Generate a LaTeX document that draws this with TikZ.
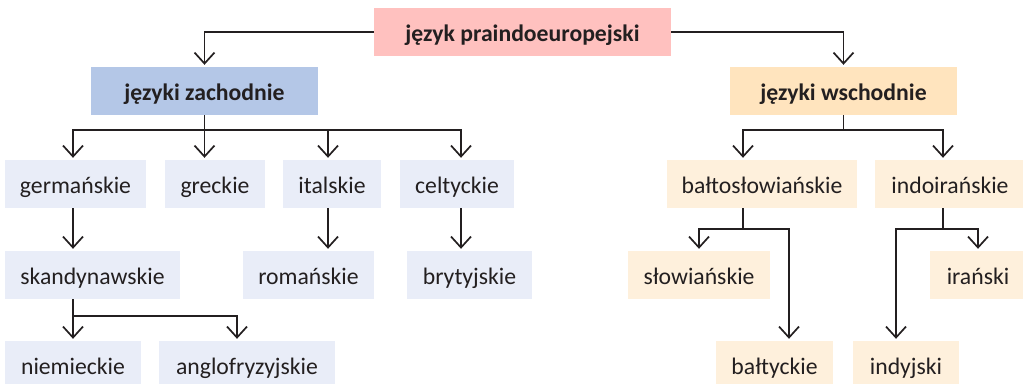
\documentclass[tikz,border=0pt]{standalone}
\usepackage{fontspec}
\setmainfont{Carlito}
\usepackage{tikz}
\usetikzlibrary{arrows.meta}

\definecolor{ink}{HTML}{231F20}
\definecolor{rootpink}{HTML}{FFC1BF}
\definecolor{westblue}{HTML}{B4C7E7}
\definecolor{eastpeach}{HTML}{FFE4BE}
\definecolor{westpale}{HTML}{E9EDF8}
\definecolor{eastpale}{HTML}{FEF0DC}

\begin{document}
\begin{tikzpicture}[
            x=1pt, y=-1pt,
            every node/.style={font=\fontsize{23.7}{28}\selectfont, text=ink, inner sep=0pt,
                minimum height=48pt, text height=20pt, text depth=2pt}, % Common look of all boxes
            rootbox/.style={fill=rootpink, font=\fontsize{23.7}{28}\selectfont\bfseries}, % Top box
            westbox/.style={fill=westblue, font=\fontsize{23.7}{28}\selectfont\bfseries}, % Western group
            eastbox/.style={fill=eastpeach, font=\fontsize{23.7}{28}\selectfont\bfseries}, % Eastern group
            wleaf/.style={fill=westpale}, % Western branches
            eleaf/.style={fill=eastpale}, % Eastern branches
            conn/.style={draw=ink, line width=1.7pt},
            arr/.style={conn, -{Straight Barb[length=11pt,width=20pt]}, shorten >=2pt}
            ]

                \useasboundingbox (0,0) rectangle (1023,383);

                % Boxes
                \node[rootbox, minimum width=297pt] (root) at (522.5,32) {język praindoeuropejski};
                \node[westbox, minimum width=227pt] (west) at (204.5,91) {języki zachodnie};
                \node[eastbox, minimum width=227pt] (east) at (843.5,91) {języki wschodnie};

                \node[wleaf, minimum width=141pt] (germ) at (75.5,184) {germańskie};
                \node[wleaf, minimum width=100pt] (grec) at (215,184) {greckie};
                \node[wleaf, minimum width=98pt] (ital) at (332,184) {italskie};
                \node[wleaf, minimum width=114pt] (celt) at (457,184) {celtyckie};
                \node[wleaf, minimum width=175pt] (skan) at (92.5,275) {skandynawskie};
                \node[wleaf, minimum width=131pt] (roma) at (308.5,275) {romańskie};
                \node[wleaf, minimum width=125pt] (bryt) at (469.5,275) {brytyjskie};
                \node[wleaf, minimum width=136pt] (niem) at (73,365) {niemieckie};
                \node[wleaf, minimum width=176pt] (angl) at (247,365) {anglofryzyjskie};

                \node[eleaf, minimum width=190pt] (balt) at (762,184) {bałtosłowiańskie};
                \node[eleaf, minimum width=150pt] (indo) at (950,184) {indoirańskie};
                \node[eleaf, minimum width=142pt] (slow) at (699,275) {słowiańskie};
                \node[eleaf, minimum width=96pt] (iran) at (978,275) {irański};
                \node[eleaf, minimum width=117pt] (bltk) at (774.5,365) {bałtyckie};
                \node[eleaf, minimum width=106pt] (indy) at (906,365) {indyjski};

                % Connectors
                \draw[arr] (root.west) -| (west.north);
                \draw[arr] (root.east) -| (east.north);

                \draw[arr] (west.south) -- (west.south |- grec.north);
                \draw[arr] (west.south) -- ++(0,15) -| ([xshift=-2.5pt]germ.north);
                \draw[arr] (west.south) -- ++(0,15) -| ([xshift=-4pt]ital.north);
                \draw[arr] (west.south) -- ++(0,15) -| ([xshift=4pt]celt.north);

                \draw[arr] ([xshift=-2.5pt]germ.south) -- ([xshift=-2.5pt]germ.south |- skan.north);
                \draw[arr] ([xshift=-4pt]ital.south) -- ([xshift=-4pt]ital.south |- roma.north);
                \draw[arr] ([xshift=4pt]celt.south) -- ([xshift=4pt]celt.south |- bryt.north);

                \draw[arr] (niem.north |- skan.south) -- (niem.north);
                \draw[arr] (niem.north |- skan.south) -- ++(0,17) -| ([xshift=-10pt]angl.north);

                \draw[arr] (east.south) -- ++(0,15) -| ([xshift=-19pt]balt.north);
                \draw[arr] (east.south) -- ++(0,15) -| ([xshift=-7pt]indo.north);

                \draw[arr] ([xshift=-19pt]balt.south) -- ++(0,21) -| (slow.north);
                \draw[arr] ([xshift=-19pt]balt.south) -- ++(0,21) -| ([xshift=14.5pt]bltk.north);
                \draw[arr] ([xshift=-7pt]indo.south) -- ++(0,21) -| (iran.north);
                \draw[arr] ([xshift=-7pt]indo.south) -- ++(0,21) -| ([xshift=-10pt]indy.north);

            \end{tikzpicture}
\end{document}
